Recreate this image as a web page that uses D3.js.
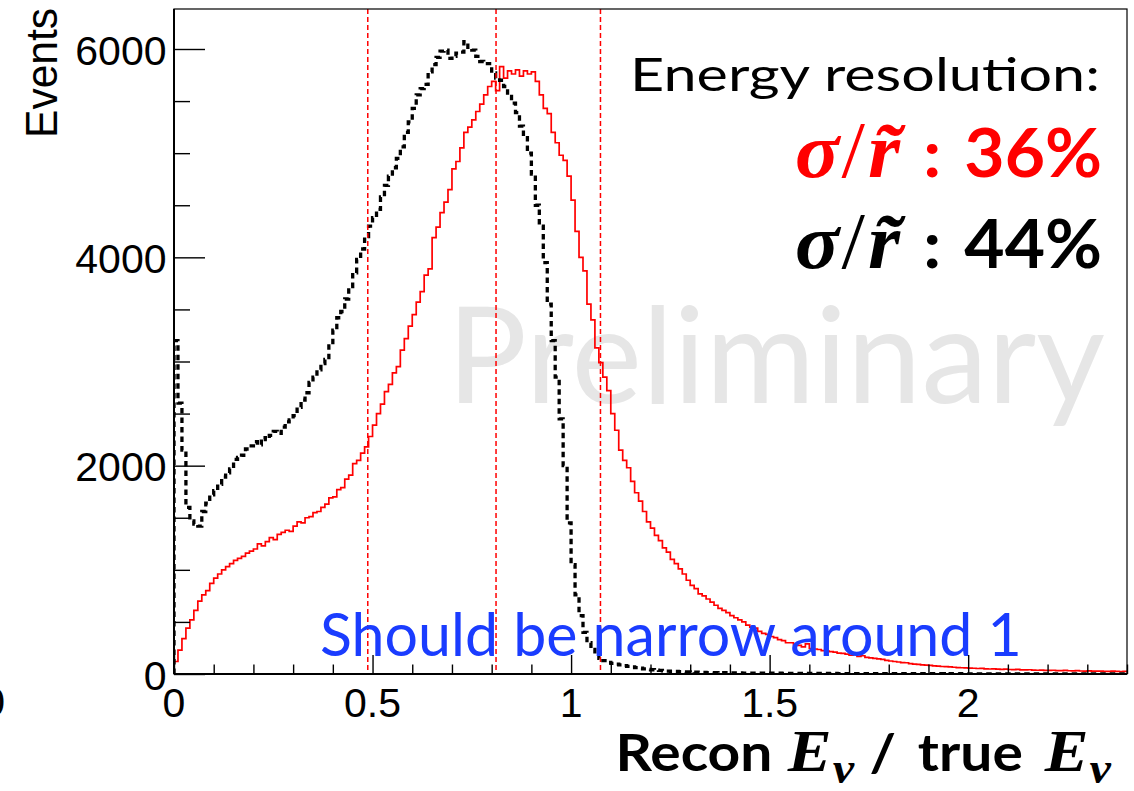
<!DOCTYPE html>
<html><head><meta charset="utf-8">
<script src="https://cdn.jsdelivr.net/npm/d3@7"></script>
<style>body{margin:0;background:#fff;} svg{display:block;}</style>
</head><body>
<svg id="c" width="1134" height="791"></svg>
<script>
// ---------- data ----------
const binWidth = 0.01;           // histogram bin width (x units), bins start at 0
const redCounts = [
 120,230,340,440,520,610,700,760,800,870,
 920,960,1000,1030,1060,1090,1110,1130,1160,1180,
 1200,1250,1230,1270,1310,1290,1340,1360,1380,1370,
 1420,1460,1450,1500,1510,1550,1560,1600,1630,1690,
 1700,1770,1790,1870,1910,2020,2050,2120,2180,2280,
 2390,2500,2590,2710,2780,2890,2950,3110,3220,3340,
 3450,3570,3670,3830,3890,4190,4290,4430,4530,4650,
 4850,4920,5050,5200,5250,5320,5400,5470,5560,5640,
 5690,5600,5830,5720,5790,5760,5800,5740,5790,5760,
 5780,5690,5560,5430,5380,5200,5100,4980,4930,4780,
 4550,4250,4000,3870,3550,3400,3130,2990,2850,2720,
 2500,2340,2150,2050,1980,1850,1740,1660,1560,1460,
 1400,1330,1280,1210,1170,1100,1060,1010,960,900,
 850,820,770,750,720,690,660,630,610,590,
 560,540,520,500,470,450,440,410,390,380,
 360,350,330,320,300,300,280,275,260,290,
 245,240,235,225,220,215,210,200,198,190,
 180,185,170,175,160,155,150,145,140,130,
 125,120,115,110,108,100,95,92,88,85,
 82,78,75,72,70,68,65,62,60,58,
 56,55,53,54,50,48,50,46,45,47,
 43,42,44,40,39,41,38,36,38,35,
 34,36,33,32,34,31,30,32,29,28,
 30,27,27,28,26,25,27,25,24,25
];
const blackCounts = [
 3200,2600,2150,1600,1470,1440,1420,1560,1640,1720,
 1760,1820,1890,1930,1970,2060,2080,2100,2160,2190,
 2230,2200,2270,2250,2290,2330,2310,2370,2420,2440,
 2480,2560,2630,2700,2800,2850,2920,2980,3020,3150,
 3300,3420,3480,3600,3720,3850,3980,4080,4200,4300,
 4380,4460,4580,4690,4780,4860,4950,5060,5200,5300,
 5430,5560,5620,5660,5780,5850,5920,5980,5990,5910,
 5930,5960,5970,6070,6000,5990,5930,5880,5860,5860,
 5770,5720,5700,5640,5545,5480,5390,5260,5150,5000,
 4800,4500,4300,3950,3550,3200,2850,2450,2000,1450,
 1050,760,560,400,300,235,185,150,128,112,
 102,95,88,80,74,68,61,55,49,44,
 41,37,34,31,28,26,24,22,20,19,
 18,17,16,15,14,14,13,12,12,11,
 11,10,10,9,9,9,8,8,8,7,
 7,7,7,6,6,6,6,6,5,5,
 5,5,5,5,5,4,5,4,4,4,
 4,4,4,4,4,4,3,4,3,3,
 3,3,3,3,3,3,3,3,3,3,
 3,3,3,3,2,3,2,2,3,2,
 2,2,2,2,2,2,2,2,2,2,
 2,2,2,2,2,2,2,2,2,2,
 2,2,2,2,2,2,2,2,2,2,
 2,2,2,2,2,2,2,2,2,2
];
const xDomain = [0, 2.4];
const yDomain = [0, 6384];
const xMajorTicks = [0, 0.5, 1, 1.5, 2];
const xTickLabels = ["0", "0.5", "1", "1.5", "2"];
const xMinorStep = 0.1;
const yMajorTicks = [0, 2000, 4000, 6000];
const yTickLabels = ["0", "2000", "4000", "6000"];
const yMinorStep = 500;
const cutLines = [0.488, 0.811, 1.074];
const yTitle = "Events";
const watermark = "Preliminary";
const annotation = "Should be narrow around 1";
const resHeader = "Energy resolution:";
const resValues = ["36%", "44%"];

// ---------- layout ----------
const svg = d3.select("#c");
const L = 174, R = 1127, T = 9, B = 674;
const x = d3.scaleLinear().domain(xDomain).range([L, R]);
const y = d3.scaleLinear().domain(yDomain).range([B, T]);
const SANS = "'Liberation Sans', Arial, Helvetica, sans-serif";
const CAL = "Lato, 'Open Sans', sans-serif";
const MATH = "'Liberation Serif', 'DejaVu Serif', serif";

svg.append("defs").append("clipPath").attr("id", "plot")
  .append("rect").attr("x", L).attr("y", T).attr("width", R - L).attr("height", B - T);

// helper: place a text in a group, then stretch it horizontally to target width
function fitted(parent, ax, ay, anchor, target, build, rot) {
  const g = parent.append("g");
  const t = g.append("text").attr("text-anchor", anchor);
  build(t);
  const w = t.node().getBBox().width;
  const s = target && w ? target / w : 1;
  g.attr("transform", `translate(${ax},${ay})` + (rot ? ` rotate(${rot})` : "") + ` scale(${s},1)`);
  return g;
}

// watermark
fitted(svg, 447, 403, "start", 658, t => t.text(watermark)
  .attr("font-family", CAL).attr("font-size", 134).attr("fill", "#e6e6e6"));

// histograms
function histPoints(counts) {
  const pts = [[0, 0]];
  counts.forEach((v, i) => pts.push([i * binWidth, v]));
  pts.push([counts.length * binWidth, counts[counts.length - 1]]);
  return pts;
}
const line = d3.line().x(d => x(d[0])).y(d => y(d[1])).curve(d3.curveStepAfter);
const hg = svg.append("g").attr("clip-path", "url(#plot)");
hg.append("path").attr("d", line(histPoints(redCounts)))
  .attr("fill", "none").attr("stroke", "#ff0000").attr("stroke-width", 1.7);
hg.append("path").attr("d", line(histPoints(blackCounts)))
  .attr("fill", "none").attr("stroke", "#000").attr("stroke-width", 3.3)
  .attr("stroke-dasharray", "5.5,4");

// vertical dashed resolution lines
svg.append("g").selectAll("line").data(cutLines).join("line")
  .attr("x1", d => x(d)).attr("x2", d => x(d)).attr("y1", T).attr("y2", B)
  .attr("stroke", "#ff0000").attr("stroke-width", 1.5).attr("stroke-dasharray", "5,3");

// blue annotation
fitted(svg, 320, 656, "start", 702, t => t.text(annotation)
  .attr("font-family", CAL).attr("font-size", 60).attr("fill", "#1a3cff"));

// ---------- axes ----------
const xMinor = d3.range(0, xDomain[1] + 1e-9, xMinorStep).filter(v => !xMajorTicks.some(m => Math.abs(m - v) < 1e-6));
const yMinor = d3.range(0, yDomain[1], yMinorStep).filter(v => !yMajorTicks.includes(v));

const xAxisMajor = d3.axisTop(x).tickValues(xMajorTicks).tickSize(19).tickFormat("");
const xAxisMinor = d3.axisTop(x).tickValues(xMinor).tickSize(9.5).tickFormat("");
const yAxisMajor = d3.axisRight(y).tickValues(yMajorTicks).tickSize(31).tickFormat("");
const yAxisMinor = d3.axisRight(y).tickValues(yMinor).tickSize(16).tickFormat("");
[[xAxisMajor, `translate(0,${B})`], [xAxisMinor, `translate(0,${B})`],
 [yAxisMajor, `translate(${L},0)`], [yAxisMinor, `translate(${L},0)`]].forEach(([ax, tr]) => {
  const g = svg.append("g").attr("transform", tr).call(ax);
  g.select(".domain").remove();
  g.selectAll(".tick line").attr("stroke", "#000").attr("stroke-width", 1.4);
});

// frame
svg.append("rect").attr("x", L).attr("y", T).attr("width", R - L).attr("height", B - T)
  .attr("fill", "none").attr("stroke", "#000").attr("stroke-width", 1.2);
svg.append("line").attr("x1", L).attr("x2", R).attr("y1", B).attr("y2", B).attr("stroke", "#000").attr("stroke-width", 2.2);
svg.append("line").attr("x1", L).attr("x2", L).attr("y1", T).attr("y2", B).attr("stroke", "#000").attr("stroke-width", 2);

// tick labels
svg.append("g").selectAll("text").data(xMajorTicks).join("text")
  .attr("x", d => x(d)).attr("y", 716.5).attr("text-anchor", "middle")
  .attr("font-family", SANS).attr("font-size", 41).text((d, i) => xTickLabels[i]);
svg.append("g").selectAll("text").data(yMajorTicks).join("text")
  .attr("x", 166.5).attr("y", d => y(d) + 15.5).attr("text-anchor", "end")
  .attr("font-family", SANS).attr("font-size", 41).text((d, i) => yTickLabels[i]);
// stray clipped label at the left edge
svg.append("text").attr("x", 5).attr("y", 716).attr("text-anchor", "end")
  .attr("font-family", SANS).attr("font-size", 41).text("0");

// y title
fitted(svg, 57, 8, "end", 130, t => t.text(yTitle)
  .attr("font-family", SANS).attr("font-size", 45), -90);

// x title: Recon E_ν / true E_ν
fitted(svg, 1111, 771, "end", 496, t => {
  t.attr("font-weight", "bold");
  t.append("tspan").attr("font-family", CAL).attr("font-size", 52).text("Recon");
  t.append("tspan").attr("font-family", MATH).attr("font-style", "italic").attr("font-size", 60).attr("dx", 14).text("E");
  t.append("tspan").attr("font-family", MATH).attr("font-style", "italic").attr("font-size", 44).attr("dy", 12).attr("dx", 1).text("ν");
  t.append("tspan").attr("font-family", CAL).attr("font-size", 52).attr("dy", -12).attr("dx", 14).text("/");
  t.append("tspan").attr("font-family", CAL).attr("font-size", 52).attr("dx", 20).text("true");
  t.append("tspan").attr("font-family", MATH).attr("font-style", "italic").attr("font-size", 60).attr("dx", 20).text("E");
  t.append("tspan").attr("font-family", MATH).attr("font-style", "italic").attr("font-size", 44).attr("dy", 12).attr("dx", 1).text("ν");
});

// resolution box
fitted(svg, 1100, 90.5, "end", 470, t => t.text(resHeader)
  .attr("font-family", CAL).attr("font-size", 46).attr("fill", "#000"));
const resColors = ["#ff0000", "#000000"];
const resBaselines = [177, 268];
resValues.forEach((v, i) => {
  fitted(svg, 1102, resBaselines[i], "end", 307, t => {
    t.attr("fill", resColors[i]).attr("font-weight", "bold");
    t.append("tspan").attr("font-family", MATH).attr("font-style", "italic").attr("font-size", 78).text("σ");
    t.append("tspan").attr("font-family", MATH).attr("font-weight", "normal").attr("font-size", 80).attr("dx", 2).text("/");
    t.append("tspan").attr("font-family", MATH).attr("font-style", "italic").attr("font-size", 78).attr("dx", 3).text("r\u0303");
    t.append("tspan").attr("font-family", CAL).attr("font-size", 66).attr("dx", 22).text(":");
    t.append("tspan").attr("font-family", CAL).attr("font-size", 66).attr("dx", 22).text(v);
  });
});
</script>
</body></html>
